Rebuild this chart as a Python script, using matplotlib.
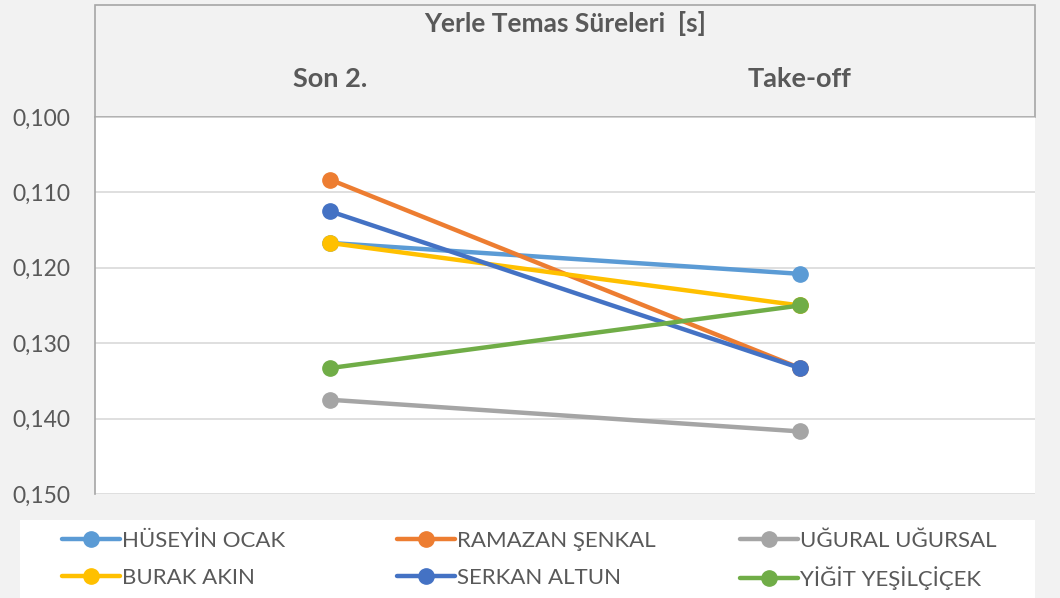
import matplotlib
matplotlib.use("Agg")
import matplotlib.pyplot as plt
from matplotlib.patches import Rectangle
from matplotlib.ticker import FuncFormatter

plt.rcParams["font.family"] = ["Lato", "DejaVu Sans"]

# data (contact times in seconds)
categories = ["Son 2.", "Take-off"]
names = ["HÜSEYİN OCAK", "RAMAZAN ŞENKAL", "UĞURAL UĞURSAL",
         "BURAK AKIN", "SERKAN ALTUN", "YİĞİT YEŞİLÇİÇEK"]
huseyin = [0.1167, 0.1208]
ramazan = [0.1083, 0.1333]
ugural = [0.1375, 0.1417]
burak = [0.1167, 0.1250]
serkan = [0.1125, 0.1333]
yigit = [0.1333, 0.1250]
series = [huseyin, ramazan, ugural, burak, serkan, yigit]
colors = ["#5B9BD5", "#ED7D31", "#A5A5A5", "#FFC000", "#4472C4", "#70AD47"]
yticks = [0.100, 0.110, 0.120, 0.130, 0.140, 0.150]

text_color = "#595959"
W, H = 1060, 598

fig = plt.figure(figsize=(W / 100, H / 100), dpi=100)
fig.patch.set_facecolor("#f2f2f2")
ax = fig.add_axes([95 / W, 1 - 494 / H, 940 / W, 377 / H])
ax.set_facecolor("white")

x = list(range(len(categories)))
lines = []
for vals, name, c in zip(series, names, colors):
    ln, = ax.plot(x, vals, color=c, lw=3.2, marker="o", ms=11,
                  solid_capstyle="round", label=name, zorder=3)
    lines.append(ln)

ax.set_xlim(-0.5, 1.5)
ax.set_ylim(0.150, 0.100)
ax.set_yticks(yticks)
ax.yaxis.set_major_formatter(FuncFormatter(lambda v, p: f"{v:.3f}".replace(".", ",")))
ax.tick_params(axis="y", length=0, pad=18, labelsize=16.5, labelcolor=text_color)
ax.set_xticks([])
ax.grid(axis="y", color="#d9d9d9", lw=1.2, zorder=0)
for s in ["top", "right", "bottom"]:
    ax.spines[s].set_visible(False)
ax.spines["left"].set_color("#a6a6a6")
ax.spines["left"].set_linewidth(1.2)

# header band with title and category labels
top = (494 - 5) / 377
ax.add_patch(Rectangle((0, 1), 1, top - 1, transform=ax.transAxes,
                       facecolor="#f2f2f2", edgecolor="#a6a6a6", lw=1.2,
                       clip_on=False, zorder=1))
ax.text(0.5, (494 - 23) / 377, "Yerle Temas Süreleri  [s]", transform=ax.transAxes,
        ha="center", va="center", fontsize=19, fontweight="bold", color=text_color)
for i, cat in enumerate(categories):
    ax.text(i, (494 - 79) / 377, cat, transform=ax.get_xaxis_transform(),
            ha="center", va="center", fontsize=19.5, fontweight="bold", color=text_color)

# legend box, one entry per slot
fig.patches.append(Rectangle((20 / W, 0), 1015 / W, 78 / H,
                             transform=fig.transFigure, facecolor="white",
                             edgecolor="none", zorder=0))
col_x = [62, 397, 740]
row_y = [541, 578]
for k, ln in enumerate(lines):
    r, c = divmod(k, 3)
    leg = fig.legend([ln], [names[k]], loc="center left",
                     bbox_to_anchor=(col_x[c] / W, 1 - row_y[r] / H),
                     frameon=False, fontsize=16, handlelength=2.6,
                     handletextpad=0.1, borderpad=0, borderaxespad=0)
    for t in leg.get_texts():
        t.set_color(text_color)

fig.savefig("out.png", dpi=100, facecolor=fig.get_facecolor())
